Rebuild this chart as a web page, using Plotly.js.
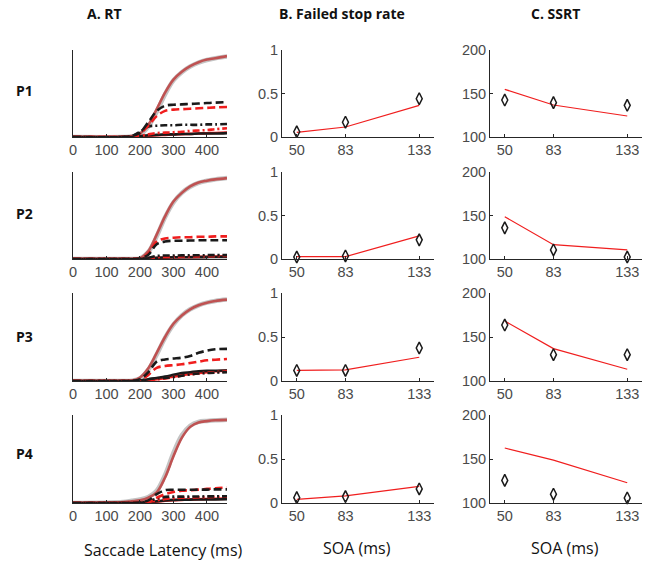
<!DOCTYPE html>
<html>
<head>
<meta charset="utf-8">
<script src="https://cdn.plot.ly/plotly-3.0.1.min.js"></script>
<style>html,body{margin:0;padding:0;background:#fff;}#chart{width:656px;height:565px;}</style>
</head>
<body>
<div id="chart"></div>
<script>
// ---------- DATA ----------
const participants = ["P1", "P2", "P3", "P4"];
const latency = [0, 150, 175, 200, 225, 250, 275, 300, 325, 350, 375, 400, 425, 460];
const latencyTicks = [0, 100, 200, 300, 400];
const soa = [50, 83, 133];

// Column A: RT cumulative distributions
// no-stop observed (gray) and model (brown)
const noStopObs_P1 = [0, 0, 0.005, 0.03, 0.12, 0.29, 0.49, 0.65, 0.745, 0.81, 0.855, 0.885, 0.905, 0.925];
const noStopMod_P1 = [0, 0, 0.01, 0.04, 0.14, 0.32, 0.51, 0.66, 0.75, 0.815, 0.86, 0.89, 0.905, 0.93];
const noStopObs_P2 = [0, 0, 0, 0.008, 0.08, 0.26, 0.48, 0.65, 0.76, 0.83, 0.875, 0.9, 0.915, 0.93];
const noStopMod_P2 = [0, 0, 0, 0.01, 0.09, 0.28, 0.49, 0.66, 0.76, 0.835, 0.88, 0.9, 0.915, 0.93];
const noStopObs_P3 = [0, 0, 0.003, 0.03, 0.13, 0.30, 0.49, 0.64, 0.745, 0.815, 0.86, 0.89, 0.91, 0.925];
const noStopMod_P3 = [0, 0, 0.005, 0.04, 0.145, 0.32, 0.50, 0.65, 0.745, 0.815, 0.86, 0.89, 0.91, 0.925];
const noStopObs_P4 = [0, 0.012, 0.025, 0.04, 0.068, 0.14, 0.32, 0.57, 0.77, 0.878, 0.922, 0.933, 0.941, 0.947];
const noStopMod_P4 = [0, 0.01, 0.02, 0.03, 0.06, 0.12, 0.29, 0.53, 0.74, 0.865, 0.915, 0.93, 0.94, 0.945];

// signal-respond, observed (black) and model (red); SOA 50 = solid, 83 = dash-dot, 133 = dashed
const srObs133_P1 = [0, 0, 0.01, 0.05, 0.17, 0.30, 0.36, 0.37, 0.375, 0.38, 0.385, 0.39, 0.395, 0.40];
const srMod133_P1 = [0, 0, 0.005, 0.04, 0.13, 0.24, 0.30, 0.315, 0.32, 0.325, 0.33, 0.335, 0.34, 0.345];
const srObs83_P1  = [0, 0, 0.01, 0.06, 0.12, 0.13, 0.135, 0.135, 0.14, 0.14, 0.14, 0.145, 0.145, 0.15];
const srMod83_P1  = [0, 0, 0, 0.01, 0.03, 0.045, 0.05, 0.055, 0.06, 0.07, 0.075, 0.08, 0.09, 0.10];
const srObs50_P1  = [0, 0, 0, 0.01, 0.02, 0.025, 0.03, 0.03, 0.035, 0.035, 0.04, 0.04, 0.04, 0.045];
const srMod50_P1  = [0, 0, 0, 0.005, 0.012, 0.02, 0.025, 0.03, 0.033, 0.036, 0.04, 0.043, 0.046, 0.05];

const srObs133_P2 = [0, 0, 0, 0.005, 0.05, 0.17, 0.20, 0.21, 0.21, 0.212, 0.215, 0.215, 0.215, 0.215];
const srMod133_P2 = [0, 0, 0, 0.005, 0.06, 0.20, 0.235, 0.245, 0.25, 0.25, 0.255, 0.255, 0.26, 0.26];
const srObs83_P2  = [0, 0, 0, 0, 0.015, 0.035, 0.04, 0.04, 0.042, 0.042, 0.043, 0.044, 0.045, 0.045];
const srMod83_P2  = [0, 0, 0, 0, 0.01, 0.02, 0.025, 0.027, 0.028, 0.03, 0.03, 0.032, 0.033, 0.035];
const srObs50_P2  = [0, 0, 0, 0, 0.008, 0.015, 0.018, 0.02, 0.02, 0.02, 0.022, 0.022, 0.023, 0.025];
const srMod50_P2  = [0, 0, 0, 0, 0.006, 0.012, 0.015, 0.018, 0.02, 0.022, 0.024, 0.026, 0.028, 0.03];

const srObs133_P3 = [0, 0, 0, 0.02, 0.10, 0.22, 0.245, 0.255, 0.265, 0.285, 0.32, 0.345, 0.36, 0.365];
const srMod133_P3 = [0, 0, 0, 0.01, 0.07, 0.15, 0.17, 0.18, 0.19, 0.205, 0.22, 0.235, 0.242, 0.25];
const srObs83_P3  = [0, 0, 0, 0.005, 0.02, 0.03, 0.035, 0.045, 0.06, 0.075, 0.085, 0.09, 0.095, 0.10];
const srMod83_P3  = [0, 0, 0, 0.003, 0.01, 0.02, 0.03, 0.045, 0.06, 0.075, 0.085, 0.095, 0.10, 0.11];
const srObs50_P3  = [0, 0, 0, 0.005, 0.02, 0.035, 0.05, 0.07, 0.09, 0.10, 0.11, 0.115, 0.117, 0.12];
const srMod50_P3  = [0, 0, 0, 0.003, 0.01, 0.02, 0.035, 0.05, 0.065, 0.08, 0.09, 0.10, 0.11, 0.12];

const srObs133_P4 = [0, 0, 0, 0.005, 0.03, 0.10, 0.145, 0.15, 0.15, 0.15, 0.152, 0.152, 0.155, 0.155];
const srMod133_P4 = [0, 0, 0, 0.003, 0.015, 0.06, 0.10, 0.125, 0.14, 0.145, 0.152, 0.16, 0.168, 0.175];
const srObs83_P4  = [0, 0, 0, 0.003, 0.02, 0.05, 0.07, 0.072, 0.072, 0.073, 0.074, 0.075, 0.075, 0.076];
const srMod83_P4  = [0, 0, 0, 0.002, 0.012, 0.03, 0.045, 0.055, 0.06, 0.062, 0.065, 0.067, 0.07, 0.072];
const srObs50_P4  = [0, 0, 0, 0.002, 0.01, 0.02, 0.03, 0.035, 0.037, 0.038, 0.04, 0.04, 0.041, 0.042];
const srMod50_P4  = [0, 0, 0, 0.002, 0.008, 0.015, 0.025, 0.032, 0.036, 0.04, 0.042, 0.045, 0.047, 0.05];

// Column B: failed stop rate
const failObs_P1 = [0.06, 0.17, 0.44];
const failMod_P1 = [0.054, 0.115, 0.364];
const failObs_P2 = [0.023, 0.035, 0.22];
const failMod_P2 = [0.027, 0.027, 0.265];
const failObs_P3 = [0.12, 0.12, 0.375];
const failMod_P3 = [0.12, 0.126, 0.27];
const failObs_P4 = [0.061, 0.073, 0.16];
const failMod_P4 = [0.042, 0.08, 0.188];

// Column C: SSRT
const ssrtObs_P1 = [142.5, 139.5, 136.4];
const ssrtMod_P1 = [154.8, 136.8, 124.1];
const ssrtObs_P2 = [135.8, 110.4, 102.3];
const ssrtMod_P2 = [148.5, 116.5, 110.4];
const ssrtObs_P3 = [163.6, 129.9, 129.9];
const ssrtMod_P3 = [168.2, 136.8, 113.4];
const ssrtObs_P4 = [125.7, 110.0, 105.7];
const ssrtMod_P4 = [162.5, 148.7, 123.0];

const failTicks = [0, 0.5, 1];
const ssrtTicks = [100, 150, 200];

// ---------- BUILD ----------
const rtData = [
  {obs: noStopObs_P1, mod: noStopMod_P1, sr: [srObs133_P1, srMod133_P1, srObs83_P1, srMod83_P1, srObs50_P1, srMod50_P1]},
  {obs: noStopObs_P2, mod: noStopMod_P2, sr: [srObs133_P2, srMod133_P2, srObs83_P2, srMod83_P2, srObs50_P2, srMod50_P2]},
  {obs: noStopObs_P3, mod: noStopMod_P3, sr: [srObs133_P3, srMod133_P3, srObs83_P3, srMod83_P3, srObs50_P3, srMod50_P3]},
  {obs: noStopObs_P4, mod: noStopMod_P4, sr: [srObs133_P4, srMod133_P4, srObs83_P4, srMod83_P4, srObs50_P4, srMod50_P4]}
];
const failData = [[failObs_P1, failMod_P1], [failObs_P2, failMod_P2], [failObs_P3, failMod_P3], [failObs_P4, failMod_P4]];
const ssrtData = [[ssrtObs_P1, ssrtMod_P1], [ssrtObs_P2, ssrtMod_P2], [ssrtObs_P3, ssrtMod_P3], [ssrtObs_P4, ssrtMod_P4]];

const W = 656, H = 565;
const colPx = [[73, 227], [282, 434], [490, 642]];
const rowPx = [[50, 137], [172, 259], [293, 381], [415, 503]];
const BLACK = '#1a1a1a', RED = '#f01e1e', BROWN = '#bf5252', GRAY = '#c4c4c4';
const srStyles = [
  {color: BLACK, dash: '8px,4px', width: 2.6},
  {color: RED, dash: '8px,4px', width: 2.6},
  {color: BLACK, dash: '7px,3px,2px,3px', width: 2.6},
  {color: RED, dash: '7px,3px,2px,3px', width: 2.6},
  {color: BLACK, dash: 'solid', width: 2.6},
  {color: RED, dash: 'solid', width: 2.6}
];

const traces = [];
const layout = {
  width: W, height: H,
  margin: {l: 0, r: 0, t: 0, b: 0},
  paper_bgcolor: '#fff', plot_bgcolor: 'rgba(0,0,0,0)',
  showlegend: false,
  annotations: []
};
const tickFont = {family: 'Liberation Sans, Arial, sans-serif', size: 14.5, color: '#4a4a4a'};

function axName(i) { return i === 1 ? '' : String(i); }

for (let r = 0; r < 4; r++) {
  for (let c = 0; c < 3; c++) {
    const i = r * 3 + c + 1;
    const xa = 'x' + axName(i), ya = 'y' + axName(i);
    const xd = [colPx[c][0] / W, colPx[c][1] / W];
    const yd = [1 - rowPx[r][1] / H, 1 - rowPx[r][0] / H];
    const xax = {
      domain: xd, anchor: ya, showline: true, linecolor: '#262626', linewidth: 1,
      showgrid: false, zeroline: false, ticks: 'inside', ticklen: 3, tickcolor: '#262626',
      tickfont: tickFont, fixedrange: true
    };
    const yax = {
      domain: yd, anchor: xa, showline: true, linecolor: '#262626', linewidth: 1,
      showgrid: false, zeroline: false, ticks: 'inside', ticklen: 3, tickcolor: '#262626',
      tickfont: tickFont, fixedrange: true
    };
    if (c === 0) {
      xax.range = [0, 460]; xax.tickvals = latencyTicks;
      yax.range = [0, 1]; yax.showticklabels = false; yax.ticks = '';
      const d = rtData[r];
      traces.push({x: latency, y: d.obs, xaxis: xa, yaxis: ya, mode: 'lines', line: {color: GRAY, width: 4.5, shape: 'spline'}});
      traces.push({x: latency, y: d.mod, xaxis: xa, yaxis: ya, mode: 'lines', line: {color: BROWN, width: 2.6, shape: 'spline'}});
      for (let k = d.sr.length - 1; k >= 0; k--) {
        const s = srStyles[k];
        traces.push({x: latency, y: d.sr[k], xaxis: xa, yaxis: ya, mode: 'lines',
          line: {color: s.color, width: s.width, dash: s.dash, shape: 'spline'}});
      }
    } else {
      xax.range = [40, 143]; xax.tickvals = soa;
      const d = c === 1 ? failData[r] : ssrtData[r];
      if (c === 1) { yax.range = [0, 1]; yax.tickvals = failTicks; yax.ticktext = ['0', '0.5', '1']; }
      else { yax.range = [100, 200]; yax.tickvals = ssrtTicks; }
      traces.push({x: soa, y: d[1], xaxis: xa, yaxis: ya, mode: 'lines', line: {color: RED, width: 1.2}, cliponaxis: false});
      traces.push({x: soa, y: d[0], xaxis: xa, yaxis: ya, mode: 'markers', cliponaxis: false,
        marker: {symbol: 'diamond-tall-open', size: 8.5, color: BLACK, line: {width: 1.5, color: BLACK}}});
    }
    layout['xaxis' + axName(i)] = xax;
    layout['yaxis' + axName(i)] = yax;
  }
}

function ann(text, px, py, font) {
  layout.annotations.push({text: text, x: px / W, y: 1 - py / H, xref: 'paper', yref: 'paper',
    showarrow: false, xanchor: 'center', yanchor: 'middle', font: font});
}
const boldFont = {family: 'Open Sans, sans-serif', size: 14, color: '#111', weight: 'bold'};
const labFont = {family: 'Open Sans, sans-serif', size: 16, color: '#111'};
ann('<b>A. RT</b>', 104, 13, boldFont);
ann('<b>B. Failed stop rate</b>', 342, 13, boldFont);
ann('<b>C. SSRT</b>', 555, 13, boldFont);
const rowLabY = [90, 214, 336, 453];
for (let r = 0; r < 4; r++) ann('<b>' + participants[r] + '</b>', 24, rowLabY[r], boldFont);
ann('Saccade Latency (ms)', 163, 550, labFont);
ann('SOA (ms)', 357, 548, labFont);
ann('SOA (ms)', 565, 548, labFont);

Plotly.newPlot('chart', traces, layout, {displayModeBar: false, staticPlot: true});
</script>
</body>
</html>
